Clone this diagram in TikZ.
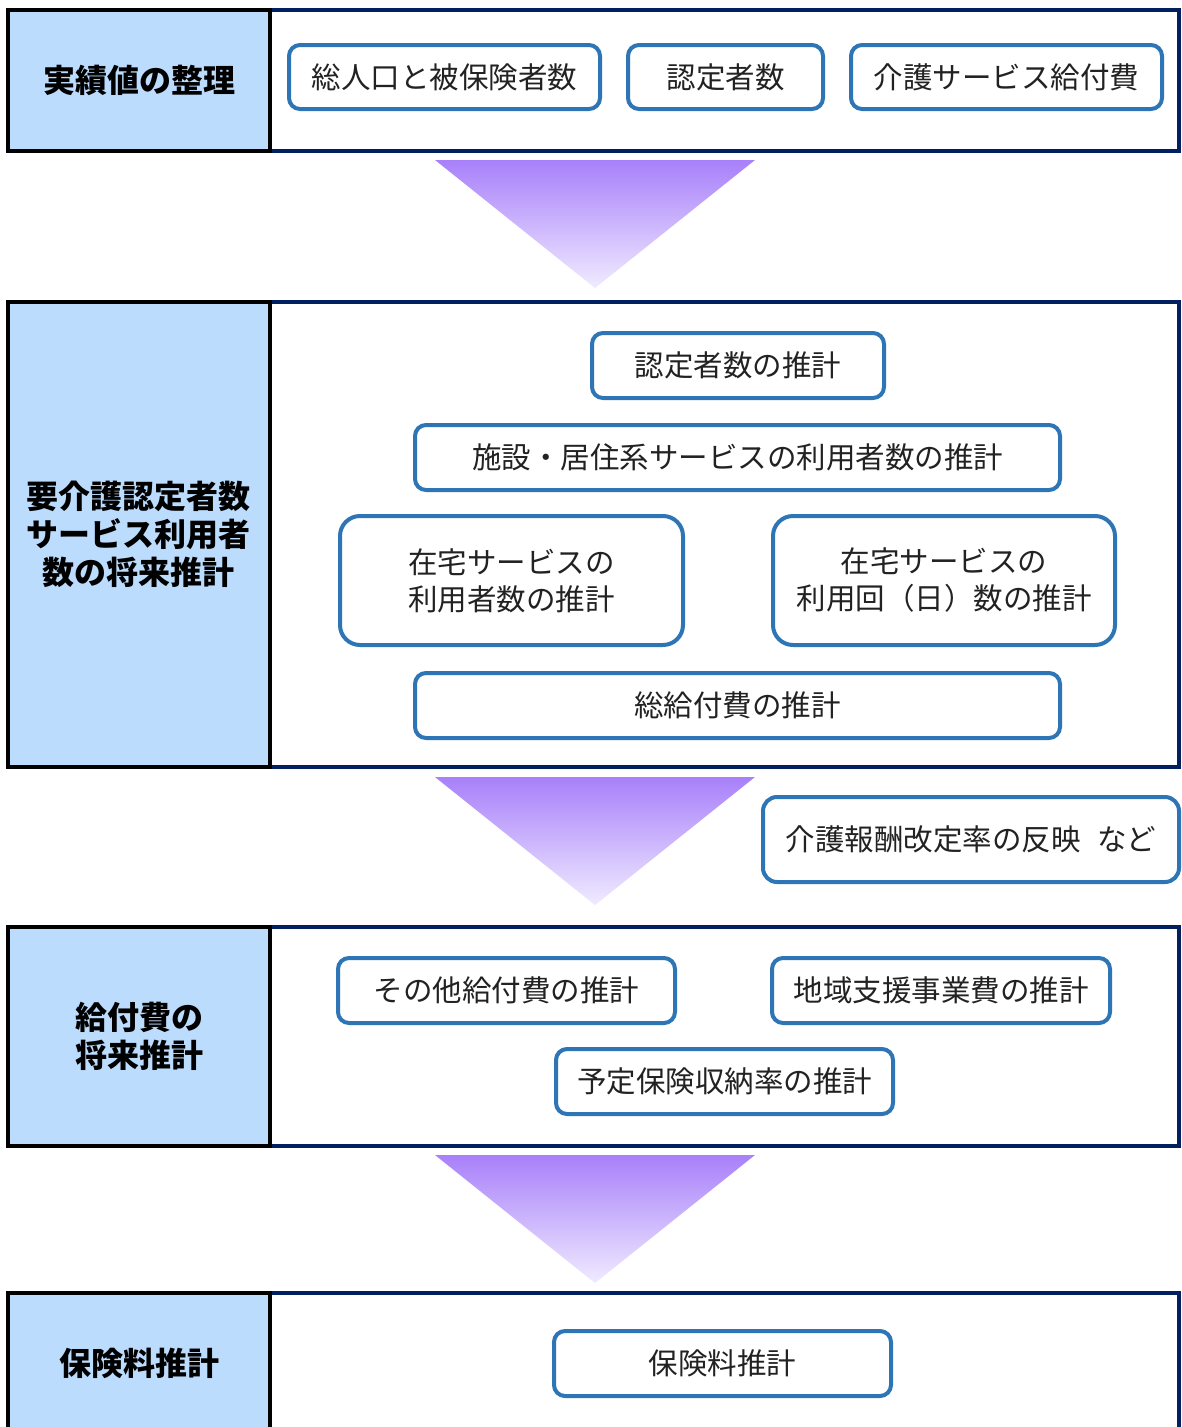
\documentclass[tikz,border=0pt]{standalone}
\usepackage{fontspec}
\newfontfamily\jp{Noto Sans CJK JP}
\definecolor{labblue}{RGB}{187,220,253}
\definecolor{navy}{RGB}{0,32,96}
\definecolor{itemblue}{RGB}{46,117,182}
\definecolor{arrtop}{RGB}{168,128,250}
\definecolor{arrbot}{RGB}{240,235,255}
\definecolor{txt}{RGB}{34,34,34}
\tikzset{
  lab/.style={draw=black, line width=4.5pt, fill=labblue, inner sep=0pt, align=center,
    font=\jp\bfseries\fontsize{32}{38}\selectfont},
  panel/.style={draw=navy, line width=4pt, fill=white, inner sep=0pt},
  item/.style={draw=itemblue, line width=4pt, rounded corners=11pt, fill=white, inner sep=0pt,
    align=center, text=txt, font=\jp\fontsize{29.5}{37}\selectfont},
  bigitem/.style={item, rounded corners=20pt},
  flow/.style={top color=arrtop, bottom color=arrbot}
}
\begin{document}
\begin{tikzpicture}[x=1pt,y=-1pt]
\useasboundingbox (0,0) rectangle (1182,1427);
\clip (0,0) rectangle (1182,1427);
\fill[white] (0,0) rectangle (1182,1427);

% ---- section 1
\node[panel, minimum width=909pt, minimum height=141pt] (p1) at (724.5,80.5) {};
\node[lab, minimum width=262pt, minimum height=141pt] (l1) at (139,80.5) {実績値の整理};
\node[item, minimum width=311pt, minimum height=64pt] (s1a) at (444.5,77) {総人口と被保険者数};
\node[item, minimum width=195pt, minimum height=64pt] (s1b) at (725.5,77) {認定者数};
\node[item, minimum width=311pt, minimum height=64pt] (s1c) at (1006.5,77) {介護サービス給付費};

% ---- arrow 1
\shade[flow] (435,160) -- (755,160) -- (595,288) -- cycle;

% ---- section 2
\node[panel, minimum width=909pt, minimum height=465pt] (p2) at (724.5,534.5) {};
\node[lab, minimum width=262pt, minimum height=465pt] (l2) at (139,534.5) {要介護認定者数\\サービス利用者\\数の将来推計};
\node[item, minimum width=292pt, minimum height=65pt] (s2a) at (738,365.5) {認定者数の推計};
\node[item, minimum width=645pt, minimum height=65pt] (s2b) at (737.5,457.5) {施設・居住系サービスの利用者数の推計};
\node[bigitem, minimum width=343pt, minimum height=129pt] (s2c) at (511.5,580.5) {在宅サービスの\\利用者数の推計};
\node[bigitem, minimum width=342pt, minimum height=129pt] (s2d) at (944,580.5) {在宅サービスの\\利用回（日）数の推計};
\node[item, minimum width=645pt, minimum height=65pt] (s2e) at (737.5,705.5) {総給付費の推計};

% ---- arrow 2 and note
\shade[flow] (435,777) -- (755,777) -- (595,905) -- cycle;
\node[item, rounded corners=14pt, minimum width=416pt, minimum height=85pt] (note) at (971,839.5) {介護報酬改定率の反映\hspace{0.55em}など};

% ---- section 3
\node[panel, minimum width=909pt, minimum height=219pt] (p3) at (724.5,1036.5) {};
\node[lab, minimum width=262pt, minimum height=219pt] (l3) at (139,1036.5) {給付費の\\将来推計};
\node[item, minimum width=337pt, minimum height=65pt] (s3a) at (506.5,990.5) {その他給付費の推計};
\node[item, minimum width=338pt, minimum height=65pt] (s3b) at (941,990.5) {地域支援事業費の推計};
\node[item, minimum width=337pt, minimum height=65pt] (s3c) at (724.5,1081.5) {予定保険収納率の推計};

% ---- arrow 3
\shade[flow] (435,1155) -- (755,1155) -- (595,1283) -- cycle;

% ---- section 4
\node[panel, minimum width=909pt, minimum height=140pt] (p4) at (724.5,1363) {};
\node[lab, minimum width=262pt, minimum height=140pt] (l4) at (139,1363) {保険料推計};
\node[item, minimum width=337pt, minimum height=65pt] (s4a) at (722.5,1363.5) {保険料推計};
\end{tikzpicture}
\end{document}
